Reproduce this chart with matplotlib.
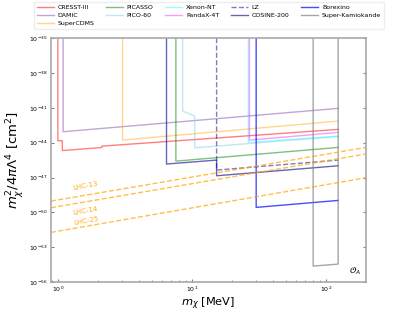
import matplotlib
matplotlib.use("Agg")
import matplotlib.pyplot as plt
import numpy as np

# masses in MeV, cross sections as log10(sigma / cm^2)
m_top = -35

cresst_m = [1.0, 1.0, 1.08, 1.08, 2.13, 2.13, 123.6]
cresst_s = [m_top, -43.84, -43.84, -44.68, -44.42, -44.30, -42.86]

damic_m = [1.095, 1.095, 123.6]
damic_s = [m_top, -43.06, -41.05]

scdms_m = [3.04, 3.04, 123.6]
scdms_s = [m_top, -43.78, -42.14]

picasso_m = [7.6, 7.6, 123.6]
picasso_s = [m_top, -45.59, -44.41]

pico_m = [8.53, 8.53, 10.5, 10.5, 123.6]
pico_s = [m_top, -41.28, -41.71, -44.44, -43.48]

xenon_m = [26.4, 26.4, 123.6]
xenon_s = [m_top, -43.98, -43.43]

pandax_m = [26.9, 26.9, 123.6]
pandax_s = [m_top, -43.78, -43.12]

lz_m = [15.3, 15.3, 123.6]
lz_s = [m_top, -46.36, -45.50]

cosine_m = [6.47, 6.47, 15.3, 15.3, 123.6]
cosine_s = [m_top, -45.84, -45.50, -46.85, -45.99]

borexino_m = [30.2, 30.2, 123.6]
borexino_s = [m_top, -49.57, -48.97]

superk_m = [80.4, 80.4, 123.6, 123.6]
superk_s = [m_top, -54.62, -54.45, m_top]

lhc_m = [0.887, 199.0]
lhc13_s = [-49.03, -44.41]
lhc14_s = [-49.60, -44.98]
lhc25_s = [-51.72, -47.02]
lhc_names = ["LHC-13", "LHC-14", "LHC-25"]
lhc_label_s = [-47.74, -49.86, -50.75]

fig = plt.figure(figsize=(4.07, 3.17), dpi=100)
ax = fig.add_axes([0.125, 0.110, 0.774, 0.770])


def draw(m, s, color, label, ls="-", alpha=0.5):
    ax.plot(m, np.power(10.0, s), color=color, ls=ls, lw=1.0, alpha=alpha, label=label)


draw(cresst_m, cresst_s, "red", "CRESST-III")
draw(damic_m, damic_s, "indigo", "DAMIC", alpha=0.35)
draw(scdms_m, scdms_s, "orange", "SuperCDMS", alpha=0.45)
draw(picasso_m, picasso_s, "green", "PICASSO")
draw(pico_m, pico_s, "skyblue", "PICO-60")
draw(xenon_m, xenon_s, "cyan", "Xenon-NT", alpha=0.4)
draw(pandax_m, pandax_s, "magenta", "PandaX-4T", alpha=0.4)
draw(lz_m, lz_s, "navy", "LZ", ls="--", alpha=0.5)
draw(cosine_m, cosine_s, "darkblue", "COSINE-200", alpha=0.6)
draw(borexino_m, borexino_s, "blue", "Borexino", alpha=0.7)
draw(superk_m, superk_s, "gray", "Super-Kamiokande", alpha=0.7)

for s, name, ly in zip([lhc13_s, lhc14_s, lhc25_s], lhc_names, lhc_label_s):
    ax.plot(lhc_m, np.power(10.0, s), color="orange", ls="--", lw=1.0, alpha=0.7)
    ax.text(1.62, 10.0**ly, name, color="orange", fontsize=5, rotation=10,
            ha="center", va="center", alpha=0.9)

ax.set_xscale("log")
ax.set_yscale("log")
ax.set_xlim(0.887, 199)
ax.set_ylim(1e-56, 1e-35)
ax.set_yticks([10.0**k for k in range(-56, -34, 3)])
ax.yaxis.set_minor_locator(matplotlib.ticker.NullLocator())
ax.tick_params(which="both", direction="in", labelsize=4.5, color="gray", right=True, pad=2)
ax.tick_params(which="major", length=2)
ax.tick_params(which="minor", length=1.5)
for sp in ax.spines.values():
    sp.set_color("darkgray")
    sp.set_linewidth(1.2)

ax.set_xlabel(r"$m_\chi$ [MeV]", fontsize=8.2, labelpad=1)
ax.set_ylabel(r"$m_\chi^2/4\pi\Lambda^4$ [cm$^2$]", fontsize=9.5, labelpad=2)
ax.text(0.985, 0.02, r"$\mathcal{O}_A$", transform=ax.transAxes, fontsize=6,
        ha="right", va="bottom")

fig.legend(*ax.get_legend_handles_labels(), ncol=5, fontsize=4.5, loc="upper center",
           bbox_to_anchor=(0.5135, 1.004), frameon=True, framealpha=1, edgecolor="#eeeeee",
           handlelength=2.7, handletextpad=0.6, columnspacing=1.9, labelspacing=0.45,
           borderpad=0.4)

fig.savefig("out.png", dpi=100)
